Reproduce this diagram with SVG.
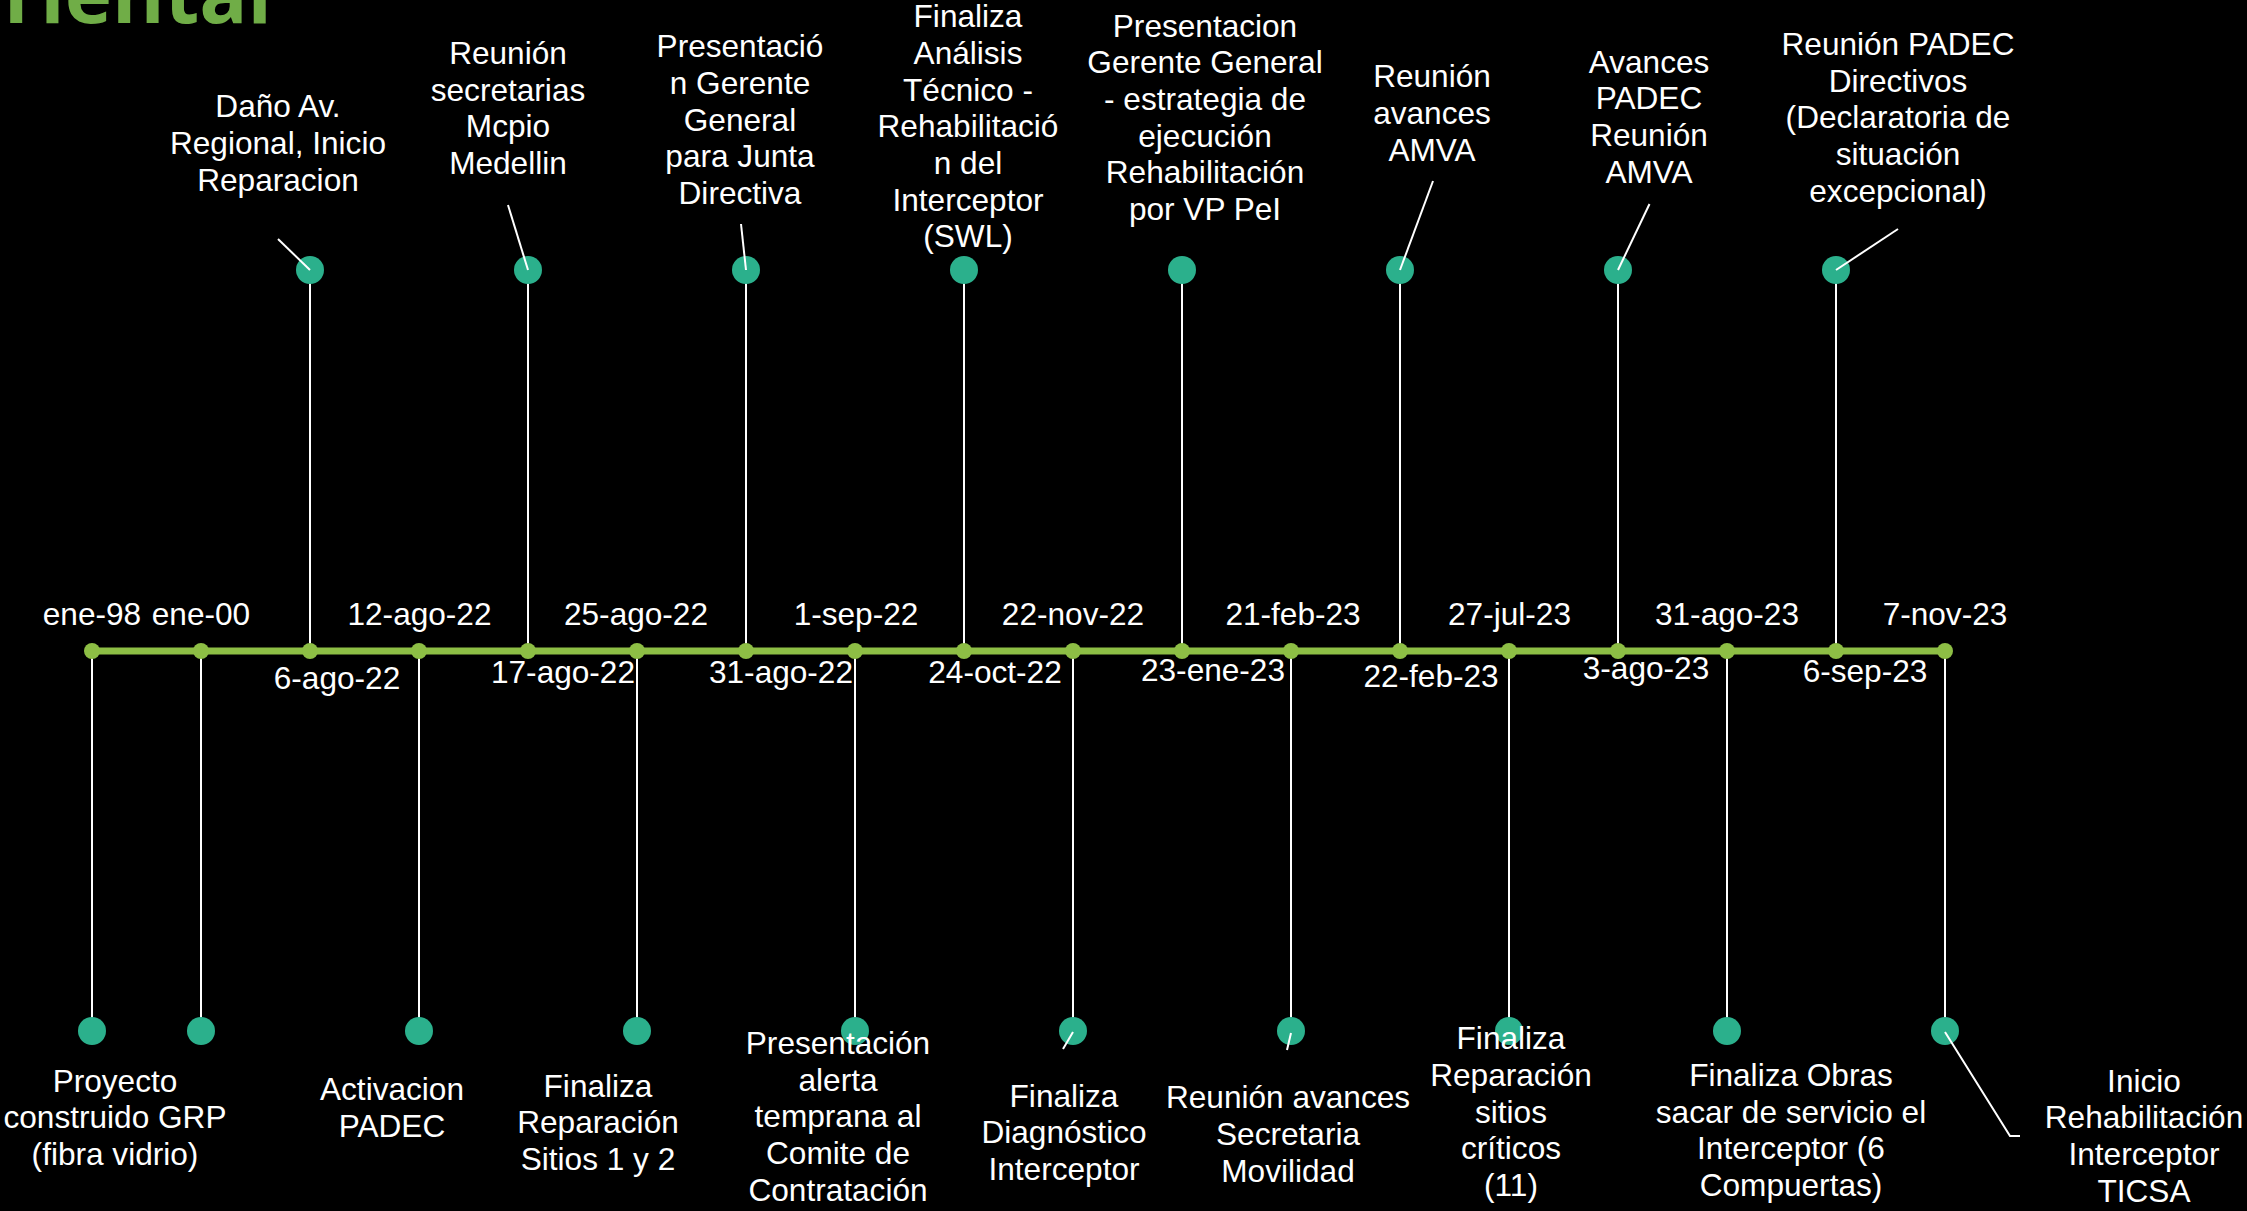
<svg xmlns="http://www.w3.org/2000/svg" width="2247" height="1211" viewBox="0 0 2247 1211">
<style>
text{font-family:"Liberation Sans",Arial,sans-serif;font-size:31.6px;fill:#ffffff;text-anchor:middle}
.title{font-family:"Open Sans","DejaVu Sans",sans-serif;font-weight:bold;font-size:80px;fill:#70AD47;text-anchor:end}
.ev{fill:#2BB08C}
.ad{fill:#8DBE45}
.axis{stroke:#8DBE45;stroke-width:7}
.stem{stroke:#ffffff;stroke-width:2}
.lead{stroke:#ffffff;stroke-width:2;fill:none}
</style>
<rect width="2247" height="1211" fill="#000000"/>
<text class="title" x="272" y="23">Oriental</text>

<g id="connectors">
<line class="stem" x1="310" y1="270" x2="310" y2="651"/>
<line class="stem" x1="528" y1="270" x2="528" y2="651"/>
<line class="stem" x1="746" y1="270" x2="746" y2="651"/>
<line class="stem" x1="964" y1="270" x2="964" y2="651"/>
<line class="stem" x1="1182" y1="270" x2="1182" y2="651"/>
<line class="stem" x1="1400" y1="270" x2="1400" y2="651"/>
<line class="stem" x1="1618" y1="270" x2="1618" y2="651"/>
<line class="stem" x1="1836" y1="270" x2="1836" y2="651"/>
<line class="stem" x1="92" y1="651" x2="92" y2="1031"/>
<line class="stem" x1="201" y1="651" x2="201" y2="1031"/>
<line class="stem" x1="419" y1="651" x2="419" y2="1031"/>
<line class="stem" x1="637" y1="651" x2="637" y2="1031"/>
<line class="stem" x1="855" y1="651" x2="855" y2="1031"/>
<line class="stem" x1="1073" y1="651" x2="1073" y2="1031"/>
<line class="stem" x1="1291" y1="651" x2="1291" y2="1031"/>
<line class="stem" x1="1509" y1="651" x2="1509" y2="1031"/>
<line class="stem" x1="1727" y1="651" x2="1727" y2="1031"/>
<line class="stem" x1="1945" y1="651" x2="1945" y2="1031"/>
</g>

<g id="axis">
<line class="axis" x1="92" y1="651" x2="1945" y2="651"/>
<circle class="ad" cx="92" cy="651" r="8"/>
<circle class="ad" cx="201" cy="651" r="8"/>
<circle class="ad" cx="310" cy="651" r="8"/>
<circle class="ad" cx="419" cy="651" r="8"/>
<circle class="ad" cx="528" cy="651" r="8"/>
<circle class="ad" cx="637" cy="651" r="8"/>
<circle class="ad" cx="746" cy="651" r="8"/>
<circle class="ad" cx="855" cy="651" r="8"/>
<circle class="ad" cx="964" cy="651" r="8"/>
<circle class="ad" cx="1073" cy="651" r="8"/>
<circle class="ad" cx="1182" cy="651" r="8"/>
<circle class="ad" cx="1291" cy="651" r="8"/>
<circle class="ad" cx="1400" cy="651" r="8"/>
<circle class="ad" cx="1509" cy="651" r="8"/>
<circle class="ad" cx="1618" cy="651" r="8"/>
<circle class="ad" cx="1727" cy="651" r="8"/>
<circle class="ad" cx="1836" cy="651" r="8"/>
<circle class="ad" cx="1945" cy="651" r="8"/>
</g>

<g id="n-dano">
<circle class="ev" cx="310" cy="270" r="14"/>
<text x="278"><tspan x="278" y="117">Daño Av.</tspan><tspan x="278" y="154">Regional, Inicio</tspan><tspan x="278" y="190.5">Reparacion</tspan></text>
<text x="337" y="689">6-ago-22</text>
</g>
<g id="n-secretarias">
<circle class="ev" cx="528" cy="270" r="14"/>
<text><tspan x="508" y="64">Reunión</tspan><tspan x="508" y="100.7">secretarias</tspan><tspan x="508" y="137.4">Mcpio</tspan><tspan x="508" y="174">Medellin</tspan></text>
<text x="563" y="683">17-ago-22</text>
</g>
<g id="n-pres-junta">
<circle class="ev" cx="746" cy="270" r="14"/>
<text><tspan x="740" y="57.3">Presentació</tspan><tspan x="740" y="94">n Gerente</tspan><tspan x="740" y="130.7">General</tspan><tspan x="740" y="167.4">para Junta</tspan><tspan x="740" y="204">Directiva</tspan></text>
<text x="781" y="683">31-ago-22</text>
</g>
<g id="n-analisis">
<circle class="ev" cx="964" cy="270" r="14"/>
<text><tspan x="968" y="27.3">Finaliza</tspan><tspan x="968" y="64">Análisis</tspan><tspan x="968" y="100.7">Técnico -</tspan><tspan x="968" y="137.4">Rehabilitació</tspan><tspan x="968" y="174">n del</tspan><tspan x="968" y="210.7">Interceptor</tspan><tspan x="968" y="247.4">(SWL)</tspan></text>
<text x="995" y="683">24-oct-22</text>
</g>
<g id="n-estrategia">
<circle class="ev" cx="1182" cy="270" r="14"/>
<text><tspan x="1205" y="36.7">Presentacion</tspan><tspan x="1205" y="73.3">Gerente General</tspan><tspan x="1205" y="110">- estrategia de</tspan><tspan x="1205" y="146.7">ejecución</tspan><tspan x="1205" y="183.3">Rehabilitación</tspan><tspan x="1205" y="220">por VP PeI</tspan></text>
<text x="1213" y="681">23-ene-23</text>
</g>
<g id="n-amva1">
<circle class="ev" cx="1400" cy="270" r="14"/>
<text><tspan x="1432" y="87.3">Reunión</tspan><tspan x="1432" y="124">avances</tspan><tspan x="1432" y="160.7">AMVA</tspan></text>
<text x="1431" y="687">22-feb-23</text>
</g>
<g id="n-amva2">
<circle class="ev" cx="1618" cy="270" r="14"/>
<text><tspan x="1649" y="72.7">Avances</tspan><tspan x="1649" y="109.3">PADEC</tspan><tspan x="1649" y="146">Reunión</tspan><tspan x="1649" y="182.7">AMVA</tspan></text>
<text x="1646" y="679">3-ago-23</text>
</g>
<g id="n-directivos">
<circle class="ev" cx="1836" cy="270" r="14"/>
<text><tspan x="1898" y="55">Reunión PADEC</tspan><tspan x="1898" y="91.7">Directivos</tspan><tspan x="1898" y="128.3">(Declaratoria de</tspan><tspan x="1898" y="165">situación</tspan><tspan x="1898" y="201.7">excepcional)</tspan></text>
<text x="1865" y="682">6-sep-23</text>
</g>

<g id="n-proyecto">
<circle class="ev" cx="92" cy="1031" r="14"/>
<text><tspan x="115" y="1091.7">Proyecto</tspan><tspan x="115" y="1128.3">construido GRP</tspan><tspan x="115" y="1165">(fibra vidrio)</tspan></text>
<text x="92" y="625">ene-98</text>
</g>
<g id="n-ene00">
<circle class="ev" cx="201" cy="1031" r="14"/>
<text x="201" y="625">ene-00</text>
</g>
<g id="n-activacion">
<circle class="ev" cx="419" cy="1031" r="14"/>
<text><tspan x="392" y="1100">Activacion</tspan><tspan x="392" y="1136.7">PADEC</tspan></text>
<text x="419.5" y="625">12-ago-22</text>
</g>
<g id="n-sitios12">
<circle class="ev" cx="637" cy="1031" r="14"/>
<text><tspan x="598" y="1096.7">Finaliza</tspan><tspan x="598" y="1133.3">Reparación</tspan><tspan x="598" y="1170">Sitios 1 y 2</tspan></text>
<text x="636" y="625">25-ago-22</text>
</g>
<g id="n-alerta">
<circle class="ev" cx="855" cy="1031" r="14"/>
<text><tspan x="838" y="1054">Presentación</tspan><tspan x="838" y="1090.7">alerta</tspan><tspan x="838" y="1127.3">temprana al</tspan><tspan x="838" y="1164">Comite de</tspan><tspan x="838" y="1200.7">Contratación</tspan></text>
<text x="856" y="625">1-sep-22</text>
</g>
<g id="n-diagnostico">
<circle class="ev" cx="1073" cy="1031" r="14"/>
<text><tspan x="1064" y="1106.7">Finaliza</tspan><tspan x="1064" y="1143.3">Diagnóstico</tspan><tspan x="1064" y="1180">Interceptor</tspan></text>
<text x="1073" y="625">22-nov-22</text>
</g>
<g id="n-movilidad">
<circle class="ev" cx="1291" cy="1031" r="14"/>
<text><tspan x="1288" y="1108.3">Reunión avances</tspan><tspan x="1288" y="1145">Secretaria</tspan><tspan x="1288" y="1181.7">Movilidad</tspan></text>
<text x="1293" y="625">21-feb-23</text>
</g>
<g id="n-criticos">
<circle class="ev" cx="1509" cy="1031" r="14"/>
<text><tspan x="1511" y="1049.3">Finaliza</tspan><tspan x="1511" y="1086">Reparación</tspan><tspan x="1511" y="1122.7">sitios</tspan><tspan x="1511" y="1159.3">críticos</tspan><tspan x="1511" y="1196">(11)</tspan></text>
<text x="1509.5" y="625">27-jul-23</text>
</g>
<g id="n-obras">
<circle class="ev" cx="1727" cy="1031" r="14"/>
<text><tspan x="1791" y="1086">Finaliza Obras</tspan><tspan x="1791" y="1122.7">sacar de servicio el</tspan><tspan x="1791" y="1159.3">Interceptor (6</tspan><tspan x="1791" y="1196">Compuertas)</tspan></text>
<text x="1727" y="625">31-ago-23</text>
</g>
<g id="n-ticsa">
<circle class="ev" cx="1945" cy="1031" r="14"/>
<text><tspan x="2144" y="1091.7">Inicio</tspan><tspan x="2144" y="1128.3">Rehabilitación</tspan><tspan x="2144" y="1165">Interceptor</tspan><tspan x="2144" y="1201.7">TICSA</tspan></text>
<text x="1945" y="625">7-nov-23</text>
</g>

<g id="leaders">
<line class="lead" x1="310" y1="270" x2="278" y2="239"/>
<line class="lead" x1="528" y1="270" x2="508" y2="205"/>
<line class="lead" x1="746" y1="270" x2="741" y2="224"/>
<line class="lead" x1="1400" y1="270" x2="1433" y2="181"/>
<line class="lead" x1="1618" y1="270" x2="1649.5" y2="204"/>
<line class="lead" x1="1836" y1="270" x2="1898" y2="229"/>
<line class="lead" x1="1073" y1="1032" x2="1063" y2="1049"/>
<line class="lead" x1="1291" y1="1033" x2="1287" y2="1050"/>
<polyline class="lead" points="1945,1032 2010,1136 2020,1136"/>
</g>
</svg>
